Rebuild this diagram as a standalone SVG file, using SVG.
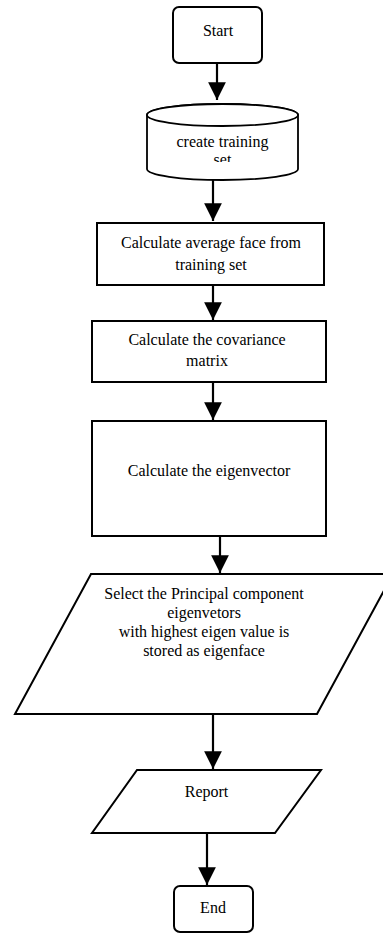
<svg xmlns="http://www.w3.org/2000/svg" width="383" height="935" viewBox="0 0 383 935">
<style>
  .shape{fill:#fff;stroke:#000;stroke-width:2}
  .cyl{fill:#fff;stroke:#000;stroke-width:1.8}
  .t{font-family:'Liberation Serif','Times New Roman',Tinos,Times,'DejaVu Serif',serif;font-size:16px;fill:#000;text-anchor:middle}
  .conn{stroke:#000;stroke-width:2.2;fill:none}
</style>
<defs>
  <marker id="arr" markerUnits="userSpaceOnUse" markerWidth="20" markerHeight="18" viewBox="0 0 18 16" refX="16" refY="8" orient="auto">
    <path d="M0,0 L16,8 L0,16 Z" fill="#000"/>
  </marker>
  <clipPath id="cylclip"><rect x="140" y="100" width="170" height="62"/></clipPath>
</defs>
<rect width="383" height="935" fill="#fff"/>
<g id="connectors">
  <line class="conn" x1="217" y1="63" x2="217" y2="100" marker-end="url(#arr)"/>
  <line class="conn" x1="213" y1="180" x2="213" y2="221" marker-end="url(#arr)"/>
  <line class="conn" x1="213" y1="285" x2="213" y2="320" marker-end="url(#arr)"/>
  <line class="conn" x1="213" y1="382" x2="213" y2="420" marker-end="url(#arr)"/>
  <line class="conn" x1="220" y1="536" x2="220" y2="573" marker-end="url(#arr)"/>
  <line class="conn" x1="213" y1="714" x2="213" y2="769" marker-end="url(#arr)"/>
  <line class="conn" x1="207" y1="833" x2="207" y2="885" marker-end="url(#arr)"/>
</g>
<g id="start">
  <rect class="shape" x="173" y="7" width="89" height="56" rx="6"/>
  <text class="t" font-family="Liberation Serif, serif" x="218" y="36">Start</text>
</g>
<g id="create-training-set">
  <path class="cyl" d="M147,115 L147,169 A75.5,11 0 0 0 298,169 L298,115 A75.5,11 0 0 0 147,115 Z"/>
  <ellipse class="cyl" cx="222.5" cy="115" rx="75.5" ry="11"/>
  <g clip-path="url(#cylclip)">
    <text class="t" x="222.5" y="147">create training</text>
    <text class="t" x="222.5" y="165">set</text>
  </g>
</g>
<g id="average-face">
  <rect class="shape" x="97" y="223" width="227" height="62"/>
  <text class="t" x="211" y="248">Calculate average face from</text>
  <text class="t" x="211" y="270">training set</text>
</g>
<g id="covariance">
  <rect class="shape" x="92" y="321" width="234" height="61"/>
  <text class="t" x="207" y="345">Calculate the covariance</text>
  <text class="t" x="207" y="366">matrix</text>
</g>
<g id="eigenvector">
  <rect class="shape" x="92" y="421" width="234" height="115"/>
  <text class="t" x="209" y="476">Calculate the eigenvector</text>
</g>
<g id="select-pc">
  <polygon class="shape" points="91,574 393,574 317,714 15,714"/>
  <text class="t" x="204" y="599">Select the Principal component</text>
  <text class="t" x="204" y="618">eigenvetors</text>
  <text class="t" x="204" y="637">with highest eigen value is</text>
  <text class="t" x="204" y="656">stored as eigenface</text>
</g>
<g id="report">
  <polygon class="shape" points="137,770 321,770 275,833 92,833"/>
  <text class="t" x="206.5" y="797">Report</text>
</g>
<g id="end">
  <rect class="shape" x="174" y="886" width="79" height="46" rx="6"/>
  <text class="t" x="213" y="913">End</text>
</g>
</svg>
